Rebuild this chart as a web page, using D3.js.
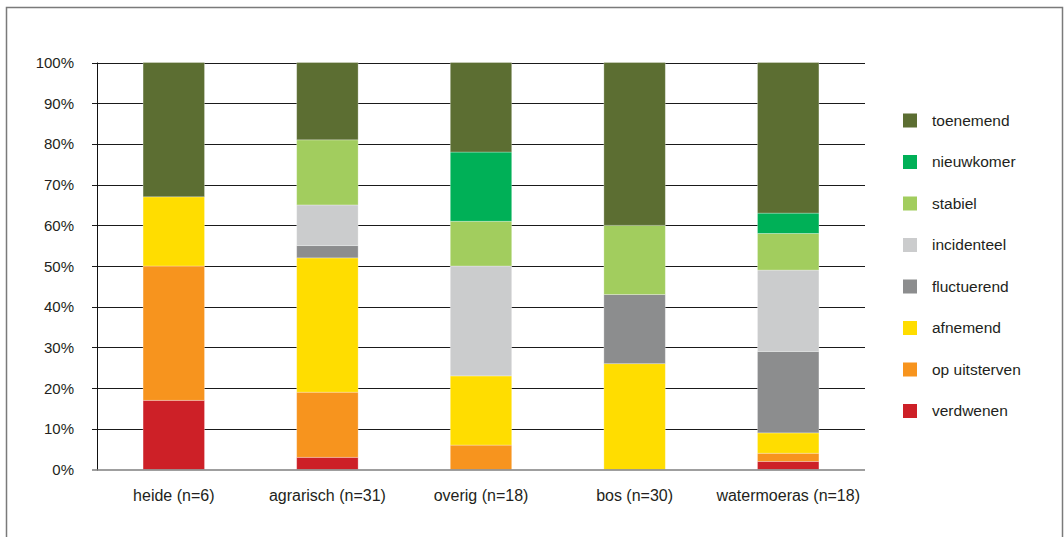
<!DOCTYPE html>
<html>
<head>
<meta charset="utf-8">
<script src="https://cdn.jsdelivr.net/npm/d3@7"></script>
<style>
  html, body { margin: 0; padding: 0; background: #fff; }
  svg { display: block; font-family: "Liberation Sans", Arial, sans-serif; }
</style>
</head>
<body>
<svg id="chart" width="1064" height="537"></svg>
<script>
// Habitat categories (x axis)
const categories = ["heide (n=6)", "agrarisch (n=31)", "overig (n=18)", "bos (n=30)", "watermoeras (n=18)"];

// Share of species per trend class, in percent, per category (stacked bottom → top)
const verdwenen    = [17,  3,  0,  0,  2];
const opUitsterven = [33, 16,  6,  0,  2];
const afnemend     = [17, 33, 17, 26,  5];
const fluctuerend  = [ 0,  3,  0, 17, 20];
const incidenteel  = [ 0, 10, 27,  0, 20];
const stabiel      = [ 0, 16, 11, 17,  9];
const nieuwkomer   = [ 0,  0, 17,  0,  5];
const toenemend    = [33, 19, 22, 40, 37];

const seriesNames = ["verdwenen", "op uitsterven", "afnemend", "fluctuerend", "incidenteel", "stabiel", "nieuwkomer", "toenemend"];
const seriesValues = [verdwenen, opUitsterven, afnemend, fluctuerend, incidenteel, stabiel, nieuwkomer, toenemend];
const seriesColors = ["#cd2027", "#f7941e", "#ffdd00", "#8c8d8e", "#cbcccd", "#a2cd5e", "#00b057", "#5c6e32"];

const yTickValues = [0, 10, 20, 30, 40, 50, 60, 70, 80, 90, 100];
const yTickLabels = ["0%", "10%", "20%", "30%", "40%", "50%", "60%", "70%", "80%", "90%", "100%"];

// Build row table for d3.stack
const rows = categories.map((c, i) => {
  const r = { category: c };
  seriesNames.forEach((s, j) => { r[s] = seriesValues[j][i]; });
  return r;
});

const svg = d3.select("#chart");

// Outer frame
svg.append("rect")
  .attr("x", 6.5).attr("y", 7.5)
  .attr("width", 1056).attr("height", 540)
  .attr("fill", "none")
  .attr("stroke", "#7a7a7a")
  .attr("stroke-width", 1.5);

const plot = { left: 97, right: 865, top: 62.5, bottom: 469.5 };

const x = d3.scaleBand()
  .domain(categories)
  .range([plot.left, plot.right])
  .paddingInner(0.6)
  .paddingOuter(0.3);

const y = d3.scaleLinear()
  .domain([0, 100])
  .range([plot.bottom, plot.top]);

// Horizontal gridlines
svg.append("g")
  .selectAll("line")
  .data(yTickValues.filter(v => v > 0))
  .join("line")
  .attr("x1", plot.left - 5).attr("x2", plot.right)
  .attr("y1", d => Math.round(y(d)) + 0.5)
  .attr("y2", d => Math.round(y(d)) + 0.5)
  .attr("stroke", "#1a1a1a")
  .attr("stroke-width", 1);

// Stacked bars
const stack = d3.stack().keys(seriesNames);
const stacked = stack(rows);

svg.append("g")
  .selectAll("g")
  .data(stacked)
  .join("g")
  .attr("fill", (d, i) => seriesColors[i])
  .selectAll("rect")
  .data(d => d.filter(p => p[1] - p[0] > 0))
  .join("rect")
  .attr("x", d => x(d.data.category))
  .attr("width", x.bandwidth())
  .attr("y", d => y(d[1]))
  .attr("height", d => y(d[0]) - y(d[1]))
  .attr("stroke", "rgba(255,255,255,0.35)")
  .attr("stroke-width", 0.8);

// Left axis line and bottom baseline
svg.append("line")
  .attr("x1", plot.left + 0.5).attr("x2", plot.left + 0.5)
  .attr("y1", plot.top).attr("y2", plot.bottom + 1)
  .attr("stroke", "#111").attr("stroke-width", 1);

svg.append("line")
  .attr("x1", plot.left - 5).attr("x2", plot.right)
  .attr("y1", plot.bottom + 0.5).attr("y2", plot.bottom + 0.5)
  .attr("stroke", "#7f7f7f").attr("stroke-width", 1.6);

// Y tick labels
svg.append("g")
  .selectAll("text")
  .data(yTickValues)
  .join("text")
  .attr("x", 74)
  .attr("y", d => y(d) + 5.5)
  .attr("text-anchor", "end")
  .attr("font-size", 15)
  .attr("fill", "#231f20")
  .text((d, i) => yTickLabels[i]);

// X category labels
svg.append("g")
  .selectAll("text")
  .data(categories)
  .join("text")
  .attr("x", d => x(d) + x.bandwidth() / 2)
  .attr("y", 501)
  .attr("text-anchor", "middle")
  .attr("font-size", 16)
  .attr("fill", "#231f20")
  .text(d => d);

// Legend (top entry = top of stack)
const legendOrder = seriesNames.map((n, i) => i).reverse();
const legend = svg.append("g")
  .selectAll("g")
  .data(legendOrder)
  .join("g")
  .attr("transform", (d, k) => `translate(903, ${113.5 + k * 41.5})`);

legend.append("rect")
  .attr("width", 14).attr("height", 14)
  .attr("fill", d => seriesColors[d]);

legend.append("text")
  .attr("x", 29)
  .attr("y", 12)
  .attr("font-size", 15.5)
  .attr("fill", "#231f20")
  .text(d => seriesNames[d]);
</script>
</body>
</html>
